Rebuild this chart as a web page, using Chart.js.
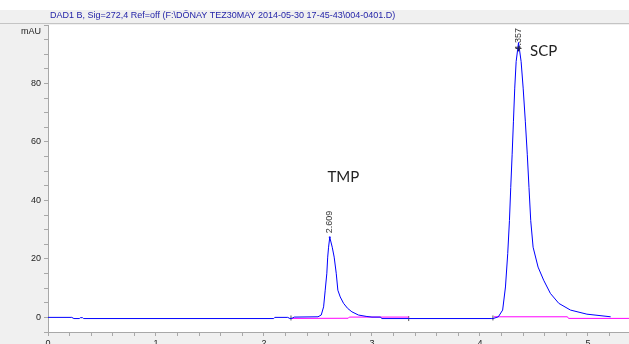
<!DOCTYPE html>
<html>
<head>
<meta charset="utf-8">
<script src="https://cdn.jsdelivr.net/npm/chart.js@4"></script>
<style>
  html, body { margin: 0; padding: 0; background: #f0f0f0; overflow: hidden; }
  #wrap { width: 629px; height: 352px; }
</style>
</head>
<body>
<div id="wrap"><canvas id="myChart"></canvas></div>
<script>
const chartTitle = 'DAD1 B, Sig=272,4 Ref=off (F:\\DÖNAY TEZ30MAY 2014-05-30 17-45-43\\004-0401.D)';
const yUnit = 'mAU';

// detector trace (min, mAU)
const traceTime = [0, 0.22, 0.24, 0.29, 0.30, 0.32, 0.33, 2.09, 2.10, 2.22, 2.24, 2.26, 2.28, 2.50, 2.53,
  2.552, 2.567, 2.582, 2.59, 2.598, 2.609, 2.632, 2.65, 2.669, 2.684, 2.706, 2.737, 2.774, 2.814, 2.875, 2.953,
  3.0, 3.08, 3.09, 3.34, 4.11, 4.13, 4.17, 4.21, 4.236, 4.257, 4.273, 4.285, 4.298, 4.31, 4.322, 4.335, 4.357,
  4.381, 4.4, 4.42, 4.438, 4.454, 4.47, 4.492, 4.538, 4.59, 4.652, 4.73, 4.838, 4.99, 5.21];
const traceMAU = [0, 0, -0.4, -0.4, -0.1, -0.1, -0.4, -0.4, 0, 0, -0.4, -0.3, 0.1, 0.2, 0.8,
  3.6, 9.3, 15.1, 20.6, 24, 27.4, 24, 20.6, 15.1, 9.3, 7.0, 4.8, 3.1, 1.9, 0.8, 0.3,
  0.1, 0.1, -0.4, -0.4, -0.4, -0.3, 0.2, 2.5, 10.4, 21.8, 33.1, 44.4, 55.8, 67.1, 78.4, 87.5, 94,
  87.5, 78.4, 67.1, 55.8, 44.4, 33.1, 24, 17.2, 12.7, 8.2, 4.8, 2.5, 1.1, 0.2];

// integration baselines
const baseTime = [2.258, 2.78, 2.79, 3.34, 3.7, 4.13, 4.81, 4.82, 5.38];
const baseMAU = [-0.35, -0.3, 0.1, 0.1, null, 0.2, 0.2, -0.35, -0.35];

// integration event marks
const eventTime = [2.25, 3.34, 4.12];
const eventMAU = [-0.2, -0.4, -0.2];

// peaks
const peakTime = [2.609, 4.357];
const peakMAU = [27.4, 92];
const peakLabels = ['2.609', '4.357'];
const compoundNames = ['TMP', 'SCP'];
const compoundAt = [[2.735, 47.8], [4.59, 90.9]];

const xTickLabels = [0, 1, 2, 3, 4, 5];
const yTickLabels = [0, 20, 40, 60, 80];

function toPoints(xs, ys) {
  return xs.map((x, i) => ({ x: x, y: ys[i] }));
}

function noPadding(scale) {
  scale.paddingLeft = 0;
  scale.paddingRight = 0;
  scale.paddingTop = 0;
  scale.paddingBottom = 0;
}

const backdrop = {
  id: 'backdrop',
  beforeDraw(chart) {
    const ctx = chart.ctx;
    const a = chart.chartArea;
    ctx.save();
    ctx.fillStyle = '#f0f0f0';
    ctx.fillRect(0, 0, chart.width, chart.height);
    ctx.fillStyle = '#ffffff';
    ctx.fillRect(0, 0, chart.width, 10);
    ctx.fillRect(a.left, a.top, a.right - a.left, a.bottom - a.top);
    ctx.fillStyle = '#c4c4c4';
    ctx.fillRect(0, 23, chart.width, 1);
    ctx.font = '9px "Liberation Sans", Arial, sans-serif';
    ctx.fillStyle = '#2424a8';
    ctx.textBaseline = 'middle';
    ctx.fillText(chartTitle, 50, 16);
    ctx.fillStyle = '#222222';
    ctx.textAlign = 'right';
    ctx.fillText(yUnit, 41, 32);
    ctx.restore();
  }
};

const notes = {
  id: 'notes',
  afterDatasetsDraw(chart) {
    const ctx = chart.ctx;
    const xs = chart.scales.x, ys = chart.scales.y;
    const top = chart.chartArea.top;
    ctx.save();
    ctx.font = '9px "Liberation Sans", Arial, sans-serif';
    ctx.fillStyle = '#333333';
    ctx.textBaseline = 'middle';
    ctx.textAlign = 'left';
    peakLabels.forEach((lab, i) => {
      const px = xs.getPixelForValue(peakTime[i]);
      const w = ctx.measureText(lab).width;
      const bottom = Math.max(ys.getPixelForValue(peakMAU[i]) - 4, top + 3 + w);
      ctx.save();
      ctx.translate(px, bottom);
      ctx.rotate(-Math.PI / 2);
      ctx.fillText(lab, 0, 0);
      ctx.restore();
    });
    ctx.font = '15px Lato, "Open Sans", sans-serif';
    ctx.fillStyle = '#222222';
    ctx.textAlign = 'center';
    compoundNames.forEach((name, i) => {
      ctx.fillText(name, xs.getPixelForValue(compoundAt[i][0]), ys.getPixelForValue(compoundAt[i][1]));
    });
    ctx.restore();
  }
};

new Chart(document.getElementById('myChart'), {
  type: 'line',
  data: {
    datasets: [
      {
        label: 'trace',
        data: toPoints(traceTime, traceMAU),
        borderColor: '#0000ff',
        borderWidth: 1,
        pointRadius: 0,
        tension: 0
      },
      {
        label: 'baseline',
        data: toPoints(baseTime, baseMAU),
        borderColor: '#ff00ff',
        borderWidth: 1,
        pointRadius: 0,
        spanGaps: false
      },
      {
        label: 'events',
        data: toPoints(eventTime, eventMAU),
        showLine: false,
        pointStyle: 'line',
        rotation: 90,
        pointRadius: 2.5,
        borderColor: '#555555',
        borderWidth: 1
      },
      {
        label: 'apex',
        data: toPoints(peakTime, peakMAU),
        showLine: false,
        pointStyle: 'cross',
        pointRadius: [1, 3],
        borderColor: ['#3333ff', '#222222'],
        borderWidth: 1
      }
    ]
  },
  plugins: [backdrop, notes],
  options: {
    responsive: true,
    maintainAspectRatio: false,
    animation: false,
    layout: { autoPadding: false, padding: { top: 25, right: 0, left: 0, bottom: 0 } },
    plugins: {
      legend: { display: false },
      tooltip: { enabled: false }
    },
    scales: {
      x: {
        type: 'linear',
        min: 0,
        max: 5.38,
        afterFit(scale) { scale.height = 20; noPadding(scale); },
        border: { color: '#a8a8a8' },
        grid: { drawOnChartArea: false, tickLength: 4, tickColor: '#a8a8a8' },
        ticks: {
          stepSize: 0.2,
          includeBounds: false,
          autoSkip: false,
          maxRotation: 0,
          padding: 2,
          color: '#222222',
          font: { size: 9, family: '"Liberation Sans", Arial, sans-serif' },
          callback(v) {
            const r = Math.round(v);
            return (Math.abs(v - r) < 1e-6 && xTickLabels.includes(r)) ? String(r) : '';
          }
        }
      },
      y: {
        min: -5,
        max: 100,
        afterFit(scale) { scale.width = 48; noPadding(scale); },
        border: { color: '#a8a8a8' },
        grid: { drawOnChartArea: false, tickLength: 4, tickColor: '#a8a8a8' },
        ticks: {
          stepSize: 5,
          includeBounds: false,
          autoSkip: false,
          padding: 3,
          color: '#222222',
          font: { size: 9, family: '"Liberation Sans", Arial, sans-serif' },
          callback(v) {
            return yTickLabels.includes(v) ? String(v) : '';
          }
        }
      }
    }
  }
});
</script>
</body>
</html>
